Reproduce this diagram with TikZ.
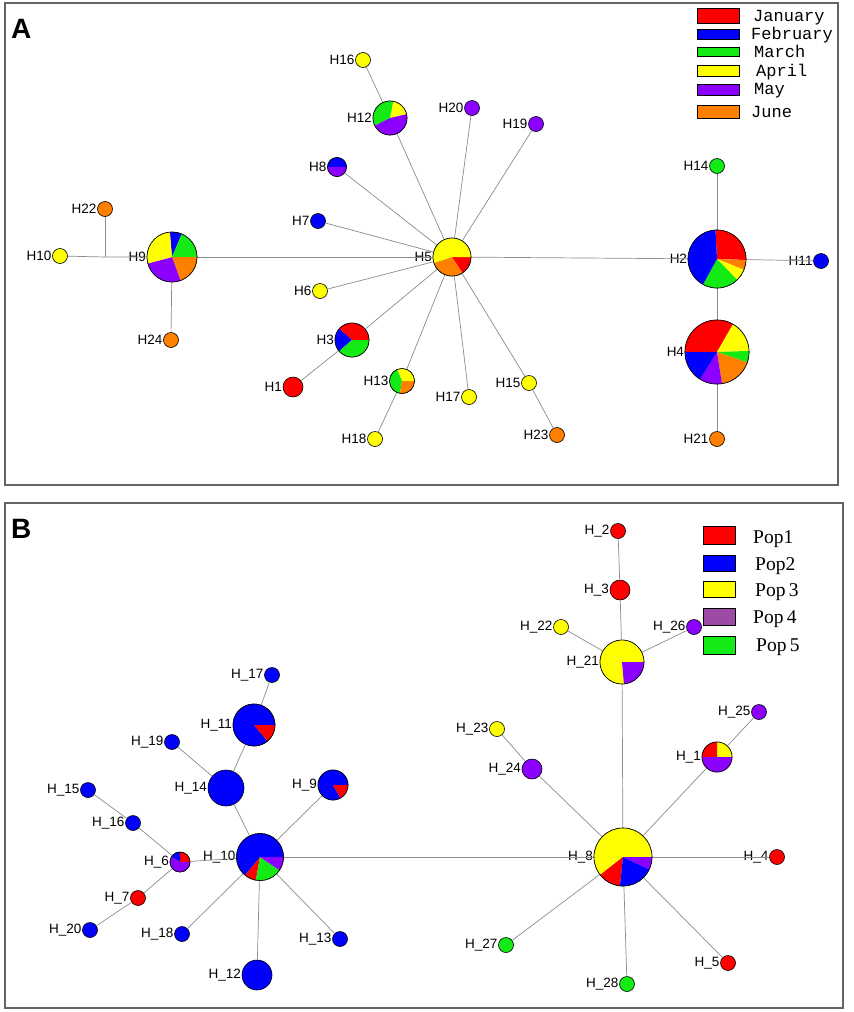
\documentclass[tikz,border=0pt]{standalone}
\usepackage{fontspec}
\setmainfont{Liberation Sans}
\newfontfamily\legA{Liberation Mono}
\newfontfamily\legB{Liberation Serif}
\definecolor{cRed}{RGB}{255,0,0}
\definecolor{cBlue}{RGB}{0,0,255}
\definecolor{cGreen}{RGB}{20,235,20}
\definecolor{cYel}{RGB}{255,255,0}
\definecolor{cPur}{RGB}{140,0,255}
\definecolor{cOra}{RGB}{255,128,0}
\definecolor{cPop}{RGB}{155,75,165}
\definecolor{edgeg}{RGB}{140,140,140}
\definecolor{frameg}{RGB}{100,100,100}
\newcommand{\slc}[5]{\begin{scope}[shift={(#1)}, x=1pt, y=1pt]\fill[#5] (0,0) -- (#3:#2) arc[start angle=#3, end angle=#4, radius=#2] -- cycle;\end{scope}}
\newcommand{\ring}[2]{\draw[line width=0.6pt] (#1) circle[radius=#2];}
\begin{document}
\begin{tikzpicture}[x=1pt,y=-1pt,
  hap/.style={circle, draw=black, line width=0.6pt, inner sep=0pt, minimum size=#1},
  lab/.style={font=\fontsize{13.5}{13.5}\selectfont, inner sep=0.5pt},
  edg/.style={draw=edgeg, line width=0.7pt},
  frm/.style={draw=frameg, line width=1.4pt},
  legbox/.style={draw=black, line width=0.8pt, minimum width=42pt, inner sep=0pt},
  legtA/.style={anchor=base west, inner sep=0pt, font=\legA\fontsize{17}{17}\selectfont},
  legtB/.style={anchor=base west, inner sep=0pt, font=\legB\fontsize{19.5}{19.5}\selectfont},
  panlab/.style={anchor=base west, inner sep=0pt, font=\bfseries\fontsize{28}{28}\selectfont}]
\useasboundingbox (0,0) rectangle (854,1012);
\fill[white] (0,0) rectangle (854,1012);
% frames
\draw[frm] (5,3) rectangle (838,485);
\draw[frm] (5,503) rectangle (843,1008);
\node[panlab] (pA) at (11,38) {A};
\node[panlab] (pB) at (11,538) {B};

% ===== Panel A nodes =====
\node[hap=15pt, fill=cYel, label={[lab]left:H16}] (h16) at (363,60) {};
\node[hap=34pt, label={[lab]left:H12}] (h12) at (390,118) {};
\node[hap=15pt, fill=cPur, label={[lab]left:H20}] (h20) at (472,108) {};
\node[hap=15pt, fill=cPur, label={[lab]left:H19}] (h19) at (536,124) {};
\node[hap=19pt, label={[lab]left:H8}] (h8) at (337,167) {};
\node[hap=15pt, fill=cBlue, label={[lab]left:H7}] (h7) at (318,221) {};
\node[hap=15pt, fill=cYel, label={[lab]left:H6}] (h6) at (320,291) {};
\node[hap=38pt, label={[lab]left:H5}] (h5) at (452,257) {};
\node[hap=34pt, label={[lab]left:H3}] (h3) at (352,340) {};
\node[hap=20pt, fill=cRed, label={[lab]left:H1}] (h1) at (293,387) {};
\node[hap=25pt, label={[lab]left:H13}] (h13) at (402,381) {};
\node[hap=15pt, fill=cYel, label={[lab]left:H18}] (h18) at (375,439) {};
\node[hap=15pt, fill=cYel, label={[lab]left:H17}] (h17) at (469,397) {};
\node[hap=15pt, fill=cYel, label={[lab]left:H15}] (h15) at (529,383) {};
\node[hap=15pt, fill=cOra, label={[lab]left:H23}] (h23) at (557,435) {};
\node[hap=50pt, label={[lab]left:H9}] (h9) at (172,257) {};
\node[hap=15pt, fill=cYel, label={[lab]left:H10}] (h10) at (60,256) {};
\node[hap=15pt, fill=cOra, label={[lab]left:H22}] (h22) at (105,209) {};
\node[hap=15pt, fill=cOra, label={[lab]left:H24}] (h24) at (171,340) {};
\node[hap=58pt, label={[lab]left:H2}] (h2) at (717,259) {};
\node[hap=15pt, fill=cGreen, label={[lab]left:H14}] (h14) at (717,166) {};
\node[hap=15pt, fill=cBlue, label={[lab]left:H11}] (h11) at (821,261) {};
\node[hap=64pt, label={[lab]left:H4}] (h4) at (717,352) {};
\node[hap=15pt, fill=cOra, label={[lab]left:H21}] (h21) at (717,439) {};
\coordinate (j22) at (105,257);

% ===== Panel A edges =====
\draw[edg] (h5) -- (h12); \draw[edg] (h12) -- (h16);
\draw[edg] (h5) -- (h20); \draw[edg] (h5) -- (h19);
\draw[edg] (h5) -- (h8);  \draw[edg] (h5) -- (h7);
\draw[edg] (h5) -- (h6);  \draw[edg] (h5) -- (h3);
\draw[edg] (h3) -- (h1);  \draw[edg] (h5) -- (h13);
\draw[edg] (h13) -- (h18); \draw[edg] (h5) -- (h17);
\draw[edg] (h5) -- (h15); \draw[edg] (h15) -- (h23);
\draw[edg] (h5) -- (h9);  \draw[edg] (h5) -- (h2);
\draw[edg] (h2) -- (h14); \draw[edg] (h2) -- (h11);
\draw[edg] (h2) -- (h4);  \draw[edg] (h4) -- (h21);
\draw[edg] (h9) -- (h24);
\draw[edg] (h10) -- (j22) -- (h9);
\draw[edg] (h22) -- (j22);

% ===== Panel A pies =====
\slc{h9}{25}{95}{67}{cBlue}\slc{h9}{25}{67}{0}{cGreen}\slc{h9}{25}{0}{-70}{cOra}
\slc{h9}{25}{-70}{-165}{cPur}\slc{h9}{25}{195}{95}{cYel}\ring{h9}{25pt}
\slc{h5}{19}{0}{-57}{cRed}\slc{h5}{19}{-57}{-162}{cOra}\slc{h5}{19}{0}{198}{cYel}\ring{h5}{19pt}
\slc{h2}{29}{93}{-2}{cRed}\slc{h2}{29}{-2}{-22}{cOra}\slc{h2}{29}{-22}{-46}{cYel}
\slc{h2}{29}{-46}{-119}{cGreen}\slc{h2}{29}{-119}{-267}{cBlue}\ring{h2}{29pt}
\slc{h4}{32}{60}{180}{cRed}\slc{h4}{32}{2}{60}{cYel}\slc{h4}{32}{-19}{2}{cGreen}
\slc{h4}{32}{-81}{-19}{cOra}\slc{h4}{32}{-122}{-81}{cPur}\slc{h4}{32}{-180}{-122}{cBlue}\ring{h4}{32pt}
\slc{h12}{17}{13}{79}{cYel}\slc{h12}{17}{79}{207}{cGreen}\slc{h12}{17}{207}{373}{cPur}\ring{h12}{17pt}
\slc{h3}{17}{0}{139}{cRed}\slc{h3}{17}{139}{221}{cBlue}\slc{h3}{17}{221}{360}{cGreen}\ring{h3}{17pt}
\slc{h13}{12.5}{0}{113}{cYel}\slc{h13}{12.5}{113}{261}{cGreen}\slc{h13}{12.5}{261}{360}{cOra}\ring{h13}{12.5pt}
\slc{h8}{9.5}{0}{180}{cBlue}\slc{h8}{9.5}{180}{360}{cPur}\ring{h8}{9.5pt}

% ===== Panel A legend =====
\node[legbox, minimum height=15pt, fill=cRed] (la1) at (718,16) {};
\node[legbox, minimum height=10pt, fill=cBlue] (la2) at (718,34) {};
\node[legbox, minimum height=9pt, fill=cGreen] (la3) at (718,52) {};
\node[legbox, minimum height=11pt, fill=cYel] (la4) at (718,71) {};
\node[legbox, minimum height=11pt, fill=cPur] (la5) at (718,89.5) {};
\node[legbox, minimum height=13pt, fill=cOra] (la6) at (718,111.5) {};
\node[legtA] (ta1) at (753,21) {January};
\node[legtA] (ta2) at (751,39) {February};
\node[legtA] (ta3) at (754,57) {March};
\node[legtA] (ta4) at (756,76) {April};
\node[legtA] (ta5) at (754,94) {May};
\node[legtA] (ta6) at (751,117) {June};

% ===== Panel B nodes =====
\node[hap=47pt, label={[lab]left:H\_10}] (b10) at (260,857) {};
\node[hap=36pt, fill=cBlue, label={[lab]left:H\_14}] (b14) at (226,788) {};
\node[hap=42pt, label={[lab]left:H\_11}] (b11) at (254,725) {};
\node[hap=15pt, fill=cBlue, label={[lab]left:H\_17}] (b17) at (272,675) {};
\node[hap=15pt, fill=cBlue, label={[lab]left:H\_19}] (b19) at (172,742) {};
\node[hap=30pt, label={[lab]left:H\_9}] (b9) at (333,785) {};
\node[hap=15pt, fill=cBlue, label={[lab]left:H\_15}] (b15) at (88,790) {};
\node[hap=15pt, fill=cBlue, label={[lab]left:H\_16}] (b16) at (133,823) {};
\node[hap=20pt, label={[lab]left:H\_6}] (b6) at (180,862) {};
\node[hap=15pt, fill=cRed, label={[lab]left:H\_7}] (b7) at (138,898) {};
\node[hap=15pt, fill=cBlue, label={[lab]left:H\_20}] (b20) at (90,930) {};
\node[hap=15pt, fill=cBlue, label={[lab]left:H\_18}] (b18) at (182,934) {};
\node[hap=30pt, fill=cBlue, label={[lab]left:H\_12}] (b12) at (257,975) {};
\node[hap=15pt, fill=cBlue, label={[lab]left:H\_13}] (b13) at (340,939) {};
\node[hap=58pt, label={[lab]left:H\_8}] (b8) at (623,857) {};
\node[hap=44pt, label={[lab]left:H\_21}] (b21) at (622,662) {};
\node[hap=15pt, fill=cYel, label={[lab]left:H\_22}] (b22) at (561,627) {};
\node[hap=15pt, fill=cPur, label={[lab]left:H\_26}] (b26) at (694,627) {};
\node[hap=20pt, fill=cRed, label={[lab]left:H\_3}] (b3) at (620,590) {};
\node[hap=15pt, fill=cRed, label={[lab]left:H\_2}] (b2) at (618,531) {};
\node[hap=30pt, label={[lab]left:H\_1}] (b1) at (717,757) {};
\node[hap=15pt, fill=cPur, label={[lab]left:H\_25}] (b25) at (759,712) {};
\node[hap=15pt, fill=cYel, label={[lab]left:H\_23}] (b23) at (497,729) {};
\node[hap=20pt, fill=cPur, label={[lab]left:H\_24}] (b24) at (532,769) {};
\node[hap=15pt, fill=cRed, label={[lab]left:H\_4}] (b4) at (777,857) {};
\node[hap=15pt, fill=cRed, label={[lab]left:H\_5}] (b5) at (728,963) {};
\node[hap=15pt, fill=cGreen, label={[lab]left:H\_28}] (b28) at (627,984) {};
\node[hap=15pt, fill=cGreen, label={[lab]left:H\_27}] (b27) at (506,945) {};

% ===== Panel B edges =====
\draw[edg] (b10) -- (b8);
\draw[edg] (b10) -- (b14); \draw[edg] (b14) -- (b11); \draw[edg] (b11) -- (b17);
\draw[edg] (b14) -- (b19);
\draw[edg] (b10) -- (b9); \draw[edg] (b10) -- (b13); \draw[edg] (b10) -- (b12);
\draw[edg] (b10) -- (b18); \draw[edg] (b10) -- (b6);
\draw[edg] (b6) -- (b16); \draw[edg] (b16) -- (b15);
\draw[edg] (b6) -- (b7); \draw[edg] (b7) -- (b20);
\draw[edg] (b8) -- (b21); \draw[edg] (b21) -- (b3); \draw[edg] (b3) -- (b2);
\draw[edg] (b21) -- (b22); \draw[edg] (b21) -- (b26);
\draw[edg] (b8) -- (b1); \draw[edg] (b1) -- (b25);
\draw[edg] (b8) -- (b24); \draw[edg] (b24) -- (b23);
\draw[edg] (b8) -- (b4); \draw[edg] (b8) -- (b5);
\draw[edg] (b8) -- (b28); \draw[edg] (b8) -- (b27);

% ===== Panel B pies =====
\slc{b10}{23.5}{0}{231}{cBlue}\slc{b10}{23.5}{231}{260}{cRed}\slc{b10}{23.5}{260}{326}{cGreen}\slc{b10}{23.5}{326}{360}{cPur}\ring{b10}{23.5pt}
\slc{b11}{21}{0}{310}{cBlue}\slc{b11}{21}{310}{360}{cRed}\ring{b11}{21pt}
\slc{b9}{15}{0}{300}{cBlue}\slc{b9}{15}{300}{360}{cRed}\ring{b9}{15pt}
\slc{b6}{10}{0}{90}{cRed}\slc{b6}{10}{90}{150}{cBlue}\slc{b6}{10}{150}{360}{cPur}\ring{b6}{10pt}
\slc{b21}{22}{0}{275}{cYel}\slc{b21}{22}{275}{360}{cPur}\ring{b21}{22pt}
\slc{b8}{29}{0}{218}{cYel}\slc{b8}{29}{218}{264}{cRed}\slc{b8}{29}{264}{335}{cBlue}\slc{b8}{29}{335}{360}{cPur}\ring{b8}{29pt}
\slc{b1}{15}{0}{90}{cYel}\slc{b1}{15}{90}{180}{cRed}\slc{b1}{15}{180}{360}{cPur}\ring{b1}{15pt}

% ===== Panel B legend =====
\node[legbox, minimum width=32pt, minimum height=17.5pt, fill=cRed] (lb1) at (719,535.5) {};
\node[legbox, minimum width=32pt, minimum height=16pt, fill=cBlue] (lb2) at (719,563) {};
\node[legbox, minimum width=32pt, minimum height=16pt, fill=cYel] (lb3) at (719,589.7) {};
\node[legbox, minimum width=32pt, minimum height=17pt, fill=cPop] (lb4) at (719,616.5) {};
\node[legbox, minimum width=32pt, minimum height=17.5pt, fill=cGreen] (lb5) at (719,645.5) {};
\node[legtB] (tb1) at (753,543.3) {Pop1};
\node[legtB] (tb2) at (755,570) {Pop2};
\node[legtB] (tb3) at (755,596.7) {Pop\,3};
\node[legtB] (tb4) at (753,623.3) {Pop\,4};
\node[legtB] (tb5) at (756,651.7) {Pop\,5};
\end{tikzpicture}
\end{document}
